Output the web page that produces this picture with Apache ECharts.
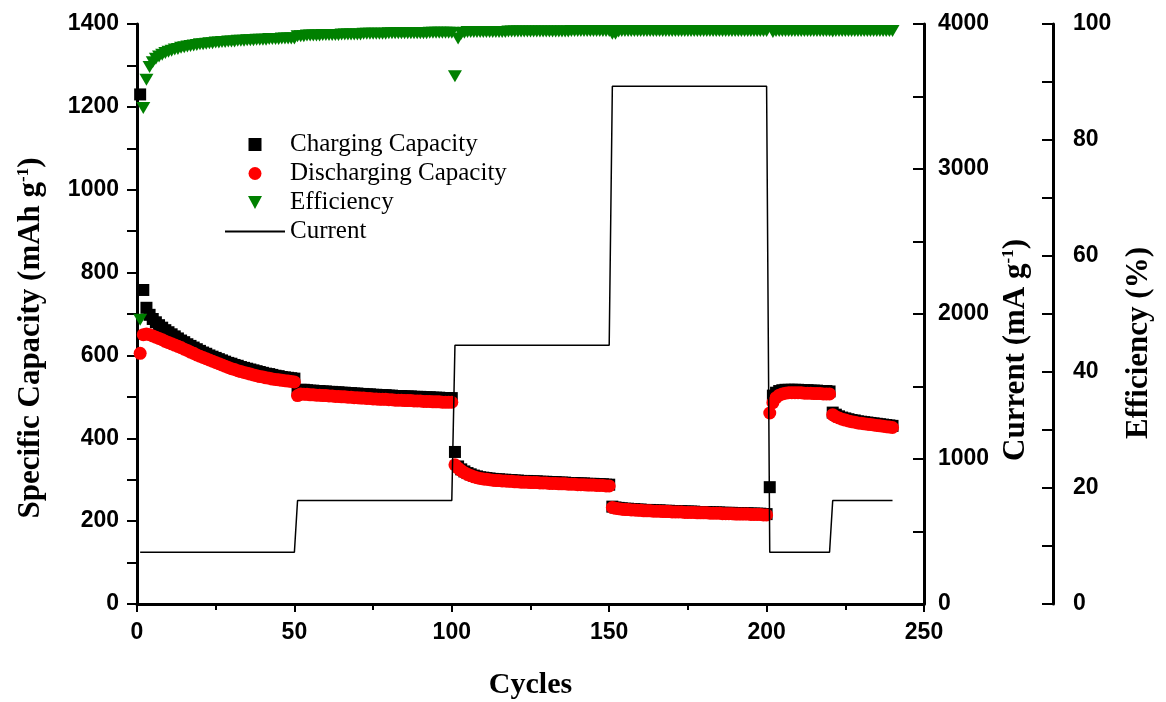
<!DOCTYPE html>
<html>
<head>
    <meta charset="utf-8">
    <title>Cycling performance</title>
    <script src="https://cdn.jsdelivr.net/npm/echarts@6/dist/echarts.min.js"></script>
    <style>
        html, body { margin: 0; padding: 0; background: #ffffff; }
        #chart { width: 1166px; height: 702px; }
    </style>
</head>
<body>
<div id="chart"></div>
<script>
    // capacity per cycle (mAh/g), cycles 1..240
    var chargeCap = [
        1230, 758, 715, 698, 688, 680, 673, 667, 661, 656,
        651, 646, 641, 636, 632, 627, 623, 619, 615, 611,
        607, 604, 600, 597, 594, 591, 588, 585, 582, 580,
        577, 575, 572, 570, 568, 566, 564, 562, 560, 558,
        556, 555, 553, 551, 550, 548, 547, 546, 545, 544,
        515, 517, 517, 516, 515, 515, 514, 514, 513, 513,
        512, 512, 511, 511, 510, 510, 509, 509, 508, 508,
        507, 507, 506, 506, 505, 505, 504, 504, 504, 503,
        503, 502, 502, 502, 501, 501, 501, 500, 500, 500,
        499, 499, 499, 498, 498, 498, 497, 497, 497, 497,
        367, 332, 325, 320, 316, 313, 310, 308, 306, 305,
        304, 303, 302, 301, 301, 300, 300, 299, 299, 298,
        298, 297, 297, 297, 296, 296, 296, 295, 295, 295,
        294, 294, 294, 293, 293, 293, 292, 292, 292, 291,
        291, 291, 290, 290, 290, 289, 289, 289, 288, 288,
        235, 233, 232, 231, 230, 230, 229, 229, 228, 228,
        227, 227, 227, 226, 226, 226, 225, 225, 225, 224,
        224, 224, 224, 223, 223, 223, 223, 222, 222, 222,
        222, 221, 221, 221, 221, 220, 220, 220, 220, 219,
        219, 219, 219, 219, 218, 218, 218, 218, 217, 217,
        282, 503, 510, 514, 516, 517, 517, 517, 517, 517,
        516, 516, 516, 515, 515, 515, 514, 514, 514, 513,
        462, 457, 453, 450, 448, 446, 444, 443, 441, 440,
        439, 438, 437, 436, 435, 434, 433, 432, 431, 430
    ];
    var dischargeCap = [
        605, 650, 652, 650, 647, 644, 641, 638, 634, 631,
        628, 625, 622, 619, 615, 612, 608, 605, 601, 598,
        595, 592, 589, 586, 583, 580, 577, 574, 571, 568,
        566, 563, 561, 559, 557, 555, 553, 551, 549, 548,
        546, 545, 543, 542, 541, 540, 539, 538, 537, 536,
        503, 507, 506, 506, 505, 505, 504, 504, 503, 503,
        502, 502, 501, 501, 500, 500, 499, 499, 498, 498,
        497, 497, 496, 496, 495, 495, 494, 494, 494, 493,
        493, 492, 492, 492, 491, 491, 491, 490, 490, 490,
        489, 489, 489, 488, 488, 488, 487, 487, 487, 487,
        336, 328, 322, 317, 313, 310, 307, 305, 303, 302,
        301, 300, 299, 298, 298, 297, 297, 296, 296, 295,
        295, 294, 294, 294, 293, 293, 293, 292, 292, 292,
        291, 291, 291, 290, 290, 290, 289, 289, 289, 288,
        288, 288, 287, 287, 287, 286, 286, 286, 285, 285,
        233, 231, 230, 229, 228, 228, 227, 227, 226, 226,
        225, 225, 225, 224, 224, 224, 223, 223, 223, 222,
        222, 222, 222, 221, 221, 221, 221, 220, 220, 220,
        220, 219, 219, 219, 219, 218, 218, 218, 218, 217,
        217, 217, 217, 217, 216, 216, 216, 216, 215, 215,
        461, 486, 498, 504, 507, 509, 510, 510, 510, 510,
        510, 509, 509, 509, 508, 508, 508, 507, 507, 507,
        457, 452, 449, 446, 444, 442, 440, 439, 437, 436,
        435, 434, 433, 432, 431, 430, 429, 428, 427, 426
    ];
    // coulombic efficiency (%), cycle 201 is off scale
    var efficiency = [
        49.0, 85.5, 90.4, 92.6, 93.4, 94.0, 94.4, 94.7, 95.0, 95.2,
        95.4, 95.6, 95.7, 95.9, 96.0, 96.1, 96.2, 96.3, 96.4, 96.5,
        96.5, 96.6, 96.7, 96.7, 96.8, 96.8, 96.9, 96.9, 97.0, 97.0,
        97.0, 97.1, 97.1, 97.1, 97.2, 97.2, 97.2, 97.3, 97.3, 97.3,
        97.3, 97.4, 97.4, 97.4, 97.4, 97.5, 97.5, 97.5, 97.5, 97.5,
        97.9, 97.9, 97.9, 98.0, 98.0, 98.0, 98.0, 98.0, 98.1, 98.1,
        98.1, 98.1, 98.1, 98.1, 98.2, 98.2, 98.2, 98.2, 98.2, 98.2,
        98.2, 98.3, 98.3, 98.3, 98.3, 98.3, 98.3, 98.3, 98.3, 98.4,
        98.4, 98.4, 98.4, 98.4, 98.4, 98.4, 98.4, 98.4, 98.4, 98.4,
        98.4, 98.4, 98.5, 98.5, 98.5, 98.5, 98.5, 98.5, 98.5, 98.5,
        91.0, 97.5, 98.3, 98.5, 98.6, 98.6, 98.6, 98.6, 98.6, 98.6,
        98.6, 98.6, 98.6, 98.6, 98.6, 98.6, 98.6, 98.7, 98.7, 98.7,
        98.7, 98.7, 98.7, 98.7, 98.7, 98.7, 98.7, 98.7, 98.7, 98.7,
        98.7, 98.7, 98.7, 98.7, 98.7, 98.7, 98.7, 98.8, 98.8, 98.8,
        98.8, 98.8, 98.8, 98.8, 98.8, 98.8, 98.8, 98.8, 98.8, 98.8,
        98.3, 98.3, 98.7, 98.8, 98.8, 98.8, 98.8, 98.8, 98.8, 98.8,
        98.8, 98.8, 98.8, 98.8, 98.8, 98.8, 98.8, 98.8, 98.8, 98.8,
        98.8, 98.8, 98.8, 98.8, 98.8, 98.8, 98.8, 98.8, 98.8, 98.8,
        98.8, 98.8, 98.8, 98.8, 98.8, 98.8, 98.8, 98.8, 98.8, 98.8,
        98.8, 98.8, 98.8, 98.8, 98.8, 98.8, 98.8, 98.8, 98.8, 98.8,
        null, 98.6, 98.8, 98.8, 98.8, 98.8, 98.8, 98.8, 98.8, 98.8,
        98.8, 98.8, 98.8, 98.8, 98.8, 98.8, 98.8, 98.8, 98.8, 98.8,
        98.7, 98.8, 98.8, 98.8, 98.8, 98.8, 98.8, 98.8, 98.8, 98.8,
        98.8, 98.8, 98.8, 98.8, 98.8, 98.8, 98.8, 98.8, 98.8, 98.8
    ];
    // current steps (mA/g)
    var stageFirst = [1, 51, 101, 151, 201, 221];
    var stageLast = [50, 100, 150, 200, 220, 240];
    var stageCurrent = [357, 714, 1785, 3570, 357, 714];

    var serif = '"Liberation Serif", "Times New Roman", serif';
    var sans = '"Liberation Sans", Arial, sans-serif';

    function withCycle(values) {
        var out = [];
        for (var i = 0; i < values.length; i++) {
            if (values[i] !== null) out.push([i + 1, values[i]]);
        }
        return out;
    }

    var currentData = [];
    for (var s = 0; s < stageFirst.length; s++) {
        for (var c = stageFirst[s]; c <= stageLast[s]; c++) {
            currentData.push([c, stageCurrent[s]]);
        }
    }

    function plain(v) { return String(v); }

    var tickLabel = {fontFamily: sans, fontWeight: 'bold', fontSize: 23, color: '#000', formatter: plain};
    var axisLine = {show: true, onZero: false, lineStyle: {color: '#000', width: 3}};

    // rotated titles sit a bit below the axis middle in the original, shifted via right padding
    function titleStyle(size, shift) {
        return {
            fontFamily: serif, fontWeight: 'bold', fontSize: size, color: '#000',
            padding: [0, shift, 0, 0],
            rich: {sup: {fontFamily: serif, fontWeight: 'bold', fontSize: 17, color: '#000', verticalAlign: 'top'}}
        };
    }

    var chart = echarts.init(document.getElementById('chart'), null, {renderer: 'canvas'});
    var option = {
        backgroundColor: '#ffffff',
        animation: false,
        grid: {left: 137, right: 242, top: 24, bottom: 98, outerBoundsMode: 'none'},
        legend: {
            orient: 'vertical',
            left: 220,
            top: 127,
            itemWidth: 60,
            itemHeight: 13,
            itemGap: 4,
            textStyle: {fontFamily: serif, fontSize: 25, color: '#000'},
            data: [
                {name: 'Charging Capacity', icon: 'path://M0,0 L10,0 L10,10 L0,10 Z'},
                {name: 'Discharging Capacity', icon: 'circle'},
                {name: 'Efficiency', icon: 'path://M0,0 L14,0 L7,13 Z'},
                {name: 'Current', icon: 'path://M0,0 L60,0 L60,2 L0,2 Z'}
            ]
        },
        xAxis: {
            type: 'value',
            min: 0, max: 250, interval: 50,
            name: 'Cycles',
            nameLocation: 'middle',
            nameGap: 66,
            nameTextStyle: {fontFamily: serif, fontWeight: 'bold', fontSize: 30, color: '#000'},
            axisLine: axisLine,
            axisTick: {show: true, length: 8, lineStyle: {width: 2}},
            minorTick: {show: true, splitNumber: 2, length: 6, lineStyle: {color: '#000', width: 2}},
            axisLabel: Object.assign({margin: 17}, tickLabel),
            splitLine: {show: false}
        },
        yAxis: [
            {
                type: 'value', position: 'left',
                min: 0, max: 1400, interval: 200,
                name: 'Specific Capacity (mAh g{sup|-1})',
                nameLocation: 'middle', nameGap: 91,
                nameTextStyle: titleStyle(31, 48),
                axisLine: axisLine,
                axisTick: {show: true, length: 10, lineStyle: {width: 2}},
                minorTick: {show: true, splitNumber: 2, length: 10, lineStyle: {color: '#000', width: 2}},
                axisLabel: Object.assign({margin: 18}, tickLabel),
                splitLine: {show: false}
            },
            {
                type: 'value', position: 'right',
                min: 0, max: 4000, interval: 1000,
                name: 'Current (mA g{sup|-1})',
                nameLocation: 'middle', nameGap: 76,
                nameTextStyle: titleStyle(31, 72),
                axisLine: axisLine,
                axisTick: {show: true, inside: true, length: 11, lineStyle: {width: 2}},
                minorTick: {show: true, splitNumber: 2, length: 11, lineStyle: {color: '#000', width: 2}},
                axisLabel: Object.assign({margin: 14}, tickLabel),
                splitLine: {show: false}
            },
            {
                type: 'value', position: 'right', offset: 129,
                min: 0, max: 100, interval: 20,
                name: 'Efficiency (%)',
                nameLocation: 'middle', nameGap: 70,
                nameTextStyle: titleStyle(31, 58),
                axisLine: axisLine,
                axisTick: {show: true, inside: true, length: 11, lineStyle: {width: 2}},
                minorTick: {show: true, splitNumber: 2, length: 11, lineStyle: {color: '#000', width: 2}},
                axisLabel: Object.assign({margin: 20}, tickLabel),
                splitLine: {show: false}
            }
        ],
        series: [
            {
                name: 'Charging Capacity',
                type: 'scatter',
                yAxisIndex: 0,
                symbol: 'rect',
                symbolSize: 12,
                itemStyle: {color: '#000000', opacity: 1},
                data: withCycle(chargeCap)
            },
            {
                name: 'Discharging Capacity',
                type: 'scatter',
                yAxisIndex: 0,
                symbol: 'circle',
                symbolSize: 13,
                itemStyle: {color: '#ff0000', opacity: 1},
                data: withCycle(dischargeCap)
            },
            {
                name: 'Efficiency',
                type: 'scatter',
                yAxisIndex: 2,
                symbol: 'triangle',
                symbolRotate: 180,
                symbolSize: [14, 12],
                itemStyle: {color: '#008000', opacity: 1},
                data: withCycle(efficiency)
            },
            {
                name: 'Current',
                type: 'line',
                yAxisIndex: 1,
                symbol: 'none',
                lineStyle: {color: '#000', width: 1.5},
                itemStyle: {color: '#000'},
                data: currentData
            }
        ]
    };
    chart.setOption(option);
</script>
</body>
</html>
